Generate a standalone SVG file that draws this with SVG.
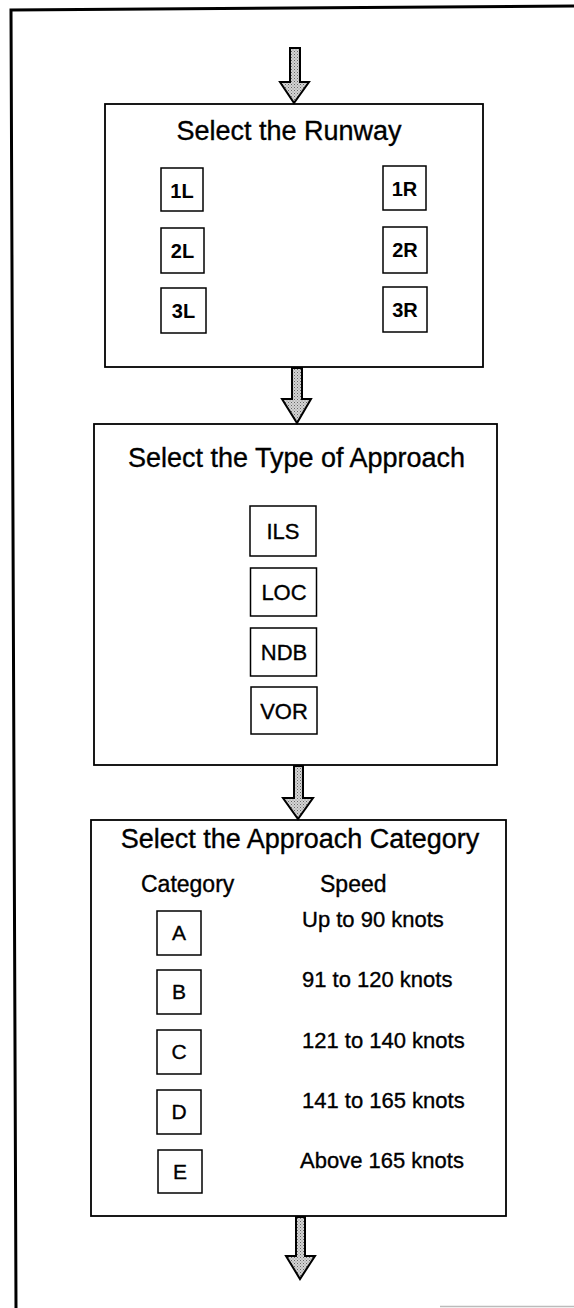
<svg xmlns="http://www.w3.org/2000/svg" width="574" height="1308" viewBox="0 0 574 1308">
<style>
.frame{fill:none;stroke:#000;stroke-width:3}
.box{fill:#fff;stroke:#000;stroke-width:1.8}
.sbox{fill:#fff;stroke:#000;stroke-width:1.5}
.arrow{fill:url(#stip);stroke:#000;stroke-width:2;stroke-linejoin:miter}
text{font-family:"Liberation Sans",Arial,Helvetica,sans-serif;fill:#000;stroke:#000;stroke-width:0.35}
.title{font-size:27px;text-anchor:middle}
.rw{font-size:20px;font-weight:bold;text-anchor:middle;stroke-width:0}
.ap{font-size:22px;text-anchor:middle}
.hd{font-size:23px}
.cat{font-size:21px;text-anchor:middle}
.spd{font-size:22px}
</style>
<defs>
<pattern id="stip" width="3" height="3" patternUnits="userSpaceOnUse">
<rect width="3" height="3" fill="#d4d4d4"/>
<rect x="0" y="0" width="1" height="1" fill="#666"/>
<rect x="1.5" y="1.5" width="1" height="1" fill="#888"/>
</pattern>
</defs>
<rect width="574" height="1308" fill="#fff"/>
<path class="frame" d="M16,1308 L11,10 L574,6"/>
<line x1="440" y1="1306.5" x2="574" y2="1306.5" stroke="#bbb" stroke-width="1.5"/>

<g id="runway">
<rect class="box" x="105" y="104" width="378" height="263"/>
<text class="title" x="289" y="140">Select the Runway</text>
<g id="rw1L"><rect class="sbox" x="161" y="168" width="42" height="43"/><text class="rw" x="182" y="198">1L</text></g>
<g id="rw2L"><rect class="sbox" x="161" y="228" width="43" height="45"/><text class="rw" x="182.5" y="258">2L</text></g>
<g id="rw3L"><rect class="sbox" x="161" y="288" width="45" height="45"/><text class="rw" x="183.5" y="318">3L</text></g>
<g id="rw1R"><rect class="sbox" x="383" y="166" width="43" height="44"/><text class="rw" x="404.5" y="196">1R</text></g>
<g id="rw2R"><rect class="sbox" x="383" y="227" width="44" height="46"/><text class="rw" x="405" y="257">2R</text></g>
<g id="rw3R"><rect class="sbox" x="383" y="287" width="44" height="45"/><text class="rw" x="405" y="317">3R</text></g>
</g>

<g id="approach">
<rect class="box" x="94" y="424" width="403" height="341"/>
<text class="title" x="296.5" y="467">Select the Type of Approach</text>
<g id="ils"><rect class="sbox" x="250" y="506" width="66" height="50"/><text class="ap" x="283" y="539">ILS</text></g>
<g id="loc"><rect class="sbox" x="250.5" y="568" width="66" height="48"/><text class="ap" x="284" y="600">LOC</text></g>
<g id="ndb"><rect class="sbox" x="250.5" y="628" width="66" height="48"/><text class="ap" x="284" y="660">NDB</text></g>
<g id="vor"><rect class="sbox" x="251" y="687" width="66" height="47"/><text class="ap" x="284" y="719">VOR</text></g>
</g>

<g id="category">
<rect class="box" x="91" y="820" width="415" height="396"/>
<text class="title" x="300" y="848">Select the Approach Category</text>
<text class="hd" x="141" y="892">Category</text>
<text class="hd" x="320" y="892">Speed</text>
<g id="catA"><rect class="sbox" x="157" y="911" width="44" height="44"/><text class="cat" x="179" y="940">A</text><text class="spd" x="302" y="927">Up to 90 knots</text></g>
<g id="catB"><rect class="sbox" x="157" y="970" width="44" height="44"/><text class="cat" x="179" y="999">B</text><text class="spd" x="302" y="987">91 to 120 knots</text></g>
<g id="catC"><rect class="sbox" x="157" y="1030" width="44" height="44"/><text class="cat" x="179" y="1059">C</text><text class="spd" x="302" y="1048">121 to 140 knots</text></g>
<g id="catD"><rect class="sbox" x="157" y="1090" width="44" height="44"/><text class="cat" x="179" y="1119">D</text><text class="spd" x="302" y="1108">141 to 165 knots</text></g>
<g id="catE"><rect class="sbox" x="158" y="1150" width="44" height="43"/><text class="cat" x="180" y="1179">E</text><text class="spd" x="300" y="1168">Above 165 knots</text></g>
</g>

<g id="connectors">
<path class="arrow" d="M290,48 L300,48 L300,82 L309,82 L294,103 L280,82 L290,82 Z"/>
<path class="arrow" d="M292,368 L302,368 L302,399 L311,399 L297,423 L282,399 L292,399 Z"/>
<path class="arrow" d="M294,766 L303,766 L303,798 L313,798 L298,819 L283,798 L294,798 Z"/>
<path class="arrow" d="M296,1217 L305,1217 L305,1256 L315,1256 L300,1279 L286,1256 L296,1256 Z"/>
</g>
</svg>
